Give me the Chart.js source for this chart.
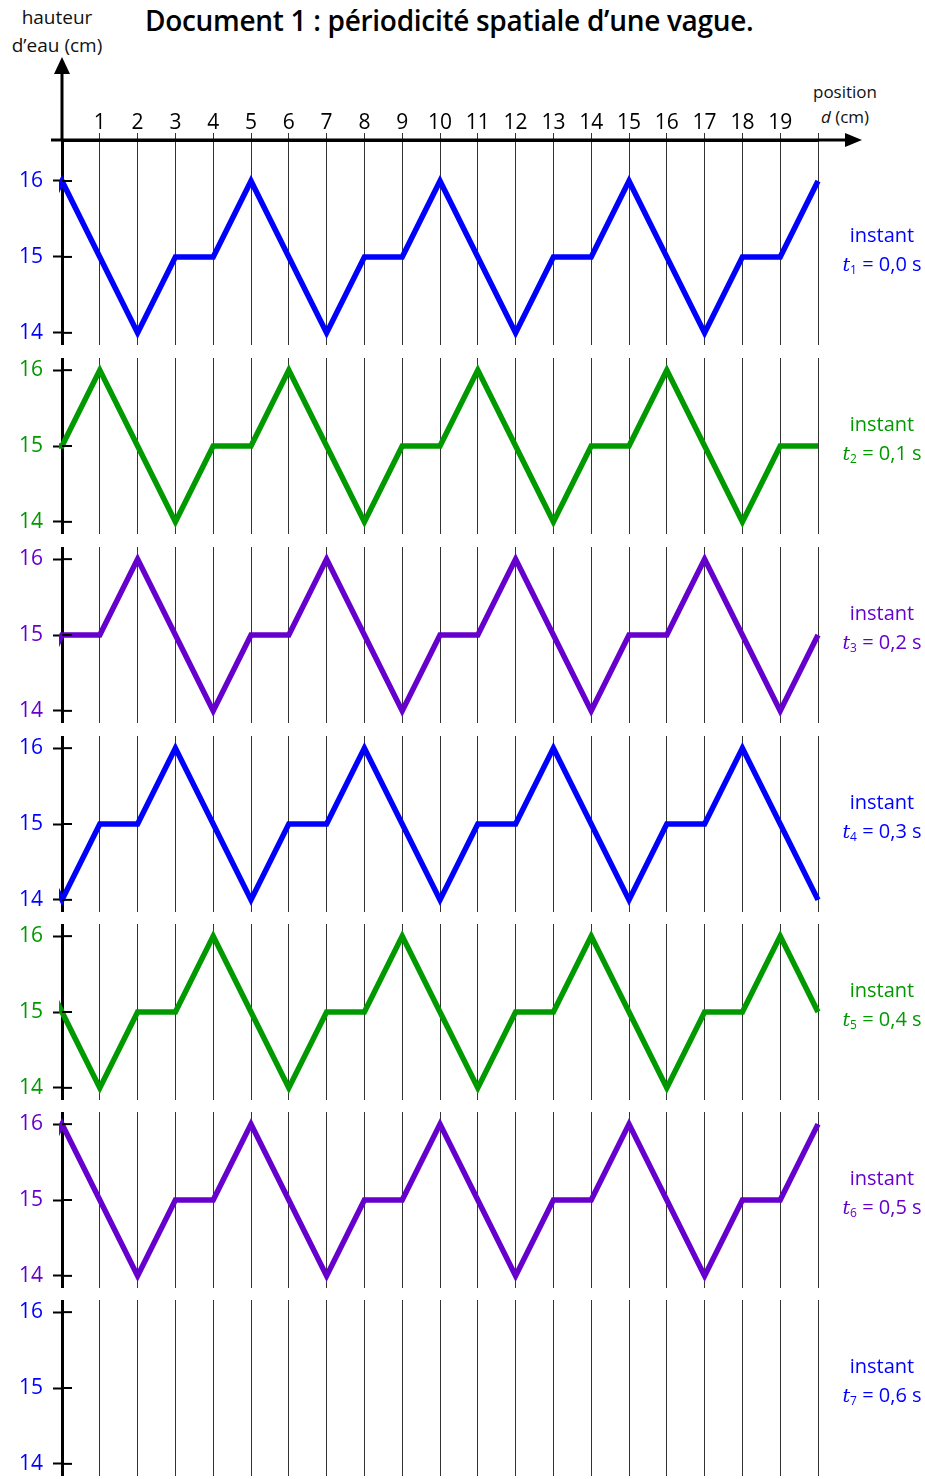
<!DOCTYPE html>
<html lang="fr">
<head>
<meta charset="utf-8">
<title>Document 1 : périodicité spatiale d'une vague</title>
<script src="https://cdn.jsdelivr.net/npm/chart.js@4.4.1/dist/chart.umd.min.js"></script>
<style>
  body { margin: 0; background: #fff; width: 925px; height: 1479px; overflow: hidden; position: relative;
         font-family: "Open Sans", "Noto Sans", sans-serif; }
  .panel { position: absolute; left: 0; width: 925px; }
  .panel canvas { display: block; }
  #title { position: absolute; left: 145px; top: 1px; font-size: 28px; font-weight: 600; color: #000; white-space: nowrap; letter-spacing: -0.3px; }
  #y-title { position: absolute; left: 0; width: 114px; top: 3px; font-size: 19px; line-height: 28px; text-align: center; color: #111; }
  #x-title { position: absolute; left: 800px; width: 90px; top: 79px; font-size: 17px; line-height: 25px; text-align: center; color: #111; }
  .instant { position: absolute; left: 832px; width: 100px; font-size: 20px; line-height: 29px; text-align: center; white-space: nowrap; }
  .instant i { font-family: "DejaVu Serif", serif; font-size: 19px; }
  .instant sub { font-size: 12px; vertical-align: -3px; }
</style>
</head>
<body>
<div id="title">Document 1 : périodicité spatiale d’une vague.</div>
<div id="y-title">hauteur<br>d’eau (cm)</div>
<div id="x-title">position<br><i>d</i> (cm)</div>
<div id="panels"></div>

<script>
// positions d (cm) of the points, one step past each end so the clipped stubs show
const positions = [-1, 0, 1, 2, 3, 4, 5, 6, 7, 8, 9, 10, 11, 12, 13, 14, 15, 16, 17, 18, 19, 20, 21];

// water height (cm) at each position, one list per instant
const height_t1 = [15, 16, 15, 14, 15, 15, 16, 15, 14, 15, 15, 16, 15, 14, 15, 15, 16, 15, 14, 15, 15, 16, 15];
const height_t2 = [15, 15, 16, 15, 14, 15, 15, 16, 15, 14, 15, 15, 16, 15, 14, 15, 15, 16, 15, 14, 15, 15, 16];
const height_t3 = [14, 15, 15, 16, 15, 14, 15, 15, 16, 15, 14, 15, 15, 16, 15, 14, 15, 15, 16, 15, 14, 15, 15];
const height_t4 = [15, 14, 15, 15, 16, 15, 14, 15, 15, 16, 15, 14, 15, 15, 16, 15, 14, 15, 15, 16, 15, 14, 15];
const height_t5 = [16, 15, 14, 15, 15, 16, 15, 14, 15, 15, 16, 15, 14, 15, 15, 16, 15, 14, 15, 15, 16, 15, 14];
const height_t6 = [15, 16, 15, 14, 15, 15, 16, 15, 14, 15, 15, 16, 15, 14, 15, 15, 16, 15, 14, 15, 15, 16, 15];
const height_t7 = [];   // left blank for the pupil

const instant_times = ["0,0", "0,1", "0,2", "0,3", "0,4", "0,5", "0,6"];
const x_tick_labels = ["", "1", "2", "3", "4", "5", "6", "7", "8", "9", "10",
                       "11", "12", "13", "14", "15", "16", "17", "18", "19", ""];
const y_ticks = [14, 15, 16];

const BLUE = "#0000ff";
const GREEN = "#009900";
const PURPLE = "#6600cc";

const panels = [
  { values: height_t1, colour: BLUE },
  { values: height_t2, colour: GREEN },
  { values: height_t3, colour: PURPLE },
  { values: height_t4, colour: BLUE },
  { values: height_t5, colour: GREEN },
  { values: height_t6, colour: PURPLE },
  { values: height_t7, colour: BLUE }
];

// layout: top of each canvas
const panel_tops = [0, 358, 547, 736, 924, 1112, 1300];
const AXIS_LEFT = 62;       // where x = 0 sits
const AXIS_TOP = 140;       // the horizontal axis of the first panel
const FONT = "'Open Sans', 'Noto Sans', sans-serif";

// inner half of the y ticks + arrows on the first panel
const axisDeco = {
  id: "axisDeco",
  afterDraw(chart, args, opts) {
    const ctx = chart.ctx;
    const y = chart.scales.y;
    ctx.save();
    ctx.strokeStyle = "#000";
    ctx.lineWidth = 2;
    y.ticks.forEach(t => {
      const py = y.getPixelForValue(t.value);
      ctx.beginPath();
      ctx.moveTo(AXIS_LEFT, py);
      ctx.lineTo(AXIS_LEFT + 10, py);
      ctx.stroke();
    });

    if (opts.arrows) {
      const area = chart.chartArea;
      ctx.fillStyle = "#000";
      ctx.lineWidth = 3;
      // vertical axis up to its arrow
      ctx.beginPath();
      ctx.moveTo(area.left, area.top);
      ctx.lineTo(area.left, 70);
      ctx.stroke();
      ctx.beginPath();
      ctx.moveTo(area.left, 57);
      ctx.lineTo(area.left - 8, 74);
      ctx.lineTo(area.left + 8, 74);
      ctx.closePath();
      ctx.fill();
      // horizontal axis, both ends
      ctx.beginPath();
      ctx.moveTo(51, area.top);
      ctx.lineTo(850, area.top);
      ctx.stroke();
      ctx.beginPath();
      ctx.moveTo(862, area.top);
      ctx.lineTo(845, area.top - 7);
      ctx.lineTo(845, area.top + 7);
      ctx.closePath();
      ctx.fill();
    }
    ctx.restore();
  }
};

function createPanel(index) {
  const panel = panels[index];
  const first = index === 0;
  const height = first ? 345 : 176;

  const holder = document.createElement("div");
  holder.className = "panel";
  holder.style.top = panel_tops[index] + "px";
  holder.style.height = height + "px";
  const canvas = document.createElement("canvas");
  canvas.width = 925;
  canvas.height = height;
  holder.appendChild(canvas);
  document.getElementById("panels").appendChild(holder);

  const chart = new Chart(canvas.getContext("2d"), {
    type: "line",
    data: {
      datasets: [{
        data: panel.values.map((v, i) => ({ x: positions[i], y: v })),
        borderColor: panel.colour,
        borderWidth: 5.5,
        pointRadius: 0,
        tension: 0,
        fill: false,
        clip: { left: 3, right: 5, top: 12, bottom: 12 }
      }]
    },
    options: {
      responsive: false,
      animation: false,
      events: [],
      layout: { padding: { left: 0, right: 925 - 818, top: 0, bottom: 0 } },
      plugins: {
        legend: { display: false },
        tooltip: { enabled: false },
        axisDeco: { arrows: first }
      },
      scales: {
        x: {
          type: "linear",
          position: "top",
          min: 0,
          max: 20,
          afterBuildTicks: axis => { axis.ticks = x_tick_labels.map((_, i) => ({ value: i })); },
          afterFit: axis => {
            axis.height = first ? AXIS_TOP : 0;
            axis.paddingLeft = 0; axis.paddingRight = 0;
            axis.paddingTop = 0; axis.paddingBottom = 0;
          },
          grid: {
            color: "#333",
            lineWidth: 1,
            drawTicks: first,
            tickLength: 7,
            tickColor: "#333"
          },
          border: { display: first, color: "#000", width: 3 },
          ticks: {
            display: first,
            autoSkip: false,
            maxRotation: 0,
            padding: -3,
            color: "#000",
            font: { family: FONT, size: 21 },
            callback: v => x_tick_labels[v] ?? ""
          }
        },
        y: {
          type: "linear",
          position: "left",
          min: 13.84,
          max: first ? 16.54 : 16.16,
          afterBuildTicks: axis => { axis.ticks = y_ticks.map(v => ({ value: v })); },
          afterFit: axis => {
            axis.width = AXIS_LEFT;
            axis.paddingTop = 0; axis.paddingBottom = 0;
            axis.paddingLeft = 0; axis.paddingRight = 0;
          },
          grid: {
            drawOnChartArea: false,
            drawTicks: true,
            tickLength: 9,
            tickWidth: 2,
            tickColor: "#000"
          },
          border: { display: true, color: "#000", width: 3 },
          ticks: {
            padding: 10,
            color: panel.colour,
            font: { family: FONT, size: 21 }
          }
        }
      }
    },
    plugins: [axisDeco]
  });

  // the "instant t = ..." note, centred on the 15 cm line of the panel
  const mid = panel_tops[index] + chart.scales.y.getPixelForValue(15);
  const note = document.createElement("div");
  note.className = "instant";
  note.style.color = panel.colour;
  note.style.top = (mid - 37) + "px";
  note.innerHTML = `instant<br><i>t</i><sub>${index + 1}</sub> = ${instant_times[index]} s`;
  document.body.appendChild(note);
  return chart;
}

panels.forEach((_, i) => createPanel(i));
</script>
</body>
</html>
